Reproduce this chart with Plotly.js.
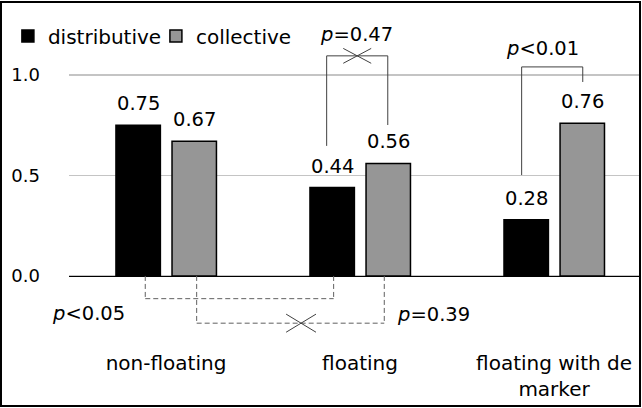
<!DOCTYPE html>
<html>
<head>
<meta charset="utf-8">
<script src="https://cdn.plot.ly/plotly-3.0.1.min.js"></script>
<style>
  html, body { margin: 0; padding: 0; background: #fff; }
  #chart { width: 642px; height: 408px; }
</style>
</head>
<body>
<div id="chart"></div>
<script>
// ---- data ----
const categories = ['non-floating', 'floating', 'floating with de<br>marker'];
const seriesNames = ['distributive', 'collective'];
const distributive = [0.75, 0.44, 0.28];
const collective = [0.67, 0.56, 0.76];
const yTickVals = [0, 0.5, 1.0];
const yTickText = ['0.0', '0.5', '1.0'];

// significance brackets (category-index x, value y)
const topBracketX = [[0.828, 1.143], [1.833, 2.148]];
const topBracketTop = [1.095, 1.04];
const topBracketEnds = [[0.647, 0.751], [0.502, 0.965]];
const topBracketCross = [true, false];
const topBracketLabels = ['<i>p</i>=0.47', '<i>p</i>&lt;0.01'];
const topLabelPos = [[0.982, 1.199], [1.943, 1.134]];

const bottomBracketX = [[-0.107, 0.864], [0.158, 1.125]];
const bottomBracketLevel = [-0.113, -0.235];
const bottomBracketCross = [false, true];
const bottomCrossX = [null, 0.696];
const bottomBracketLabels = ['<i>p</i>&lt;0.05', '<i>p</i>=0.39'];
const bottomLabelPos = [[-0.402, -0.186], [1.381, -0.19]];

// ---- layout constants ----
const FONT = 'DejaVu Sans, sans-serif';
const xIdx = categories.map((_, i) => i);
const barW = 0.229;
const offs = [-0.258, 0.031];
const colors = ['#000000', '#969696'];

const traces = [distributive, collective].map((vals, s) => ({
  type: 'bar',
  name: seriesNames[s],
  x: xIdx,
  y: vals,
  width: barW,
  offset: offs[s],
  marker: { color: colors[s], line: { color: '#000000', width: 1.5 } },
  hoverinfo: 'none'
}));

const annotations = [];
[distributive, collective].forEach((vals, s) => {
  vals.forEach((v, i) => {
    annotations.push({
      x: i + offs[s] + barW / 2, y: v, xref: 'x', yref: 'y',
      text: v.toFixed(2), showarrow: false, yanchor: 'bottom', yshift: 8,
      font: { family: FONT, size: 19.5, color: '#000' }
    });
  });
});
topBracketLabels.forEach((t, k) => annotations.push({
  x: topLabelPos[k][0], y: topLabelPos[k][1], xref: 'x', yref: 'y',
  text: t, showarrow: false, font: { family: FONT, size: 19.5, color: '#000' }
}));
bottomBracketLabels.forEach((t, k) => annotations.push({
  x: bottomLabelPos[k][0], y: bottomLabelPos[k][1], xref: 'x', yref: 'y',
  text: t, showarrow: false, font: { family: FONT, size: 19.5, color: '#000' }
}));

const shapes = [];
const solid = { color: '#404040', width: 1 };
const dashed = { color: '#606060', width: 1, dash: '5px,3px' };
function seg(x0, y0, x1, y1, line) {
  shapes.push({ type: 'line', xref: 'x', yref: 'y', x0, y0, x1, y1, line, layer: 'above' });
}
function cross(cx, cy, hx, hy, line) {
  seg(cx - hx, cy - hy, cx + hx, cy + hy, line);
  seg(cx - hx, cy + hy, cx + hx, cy - hy, line);
}
topBracketX.forEach((xs, k) => {
  const yt = topBracketTop[k];
  seg(xs[0], yt, xs[1], yt, solid);
  seg(xs[0], yt, xs[0], topBracketEnds[k][0], solid);
  seg(xs[1], yt, xs[1], topBracketEnds[k][1], solid);
  if (topBracketCross[k]) cross((xs[0] + xs[1]) / 2, yt, 0.072, 0.037, solid);
});
bottomBracketX.forEach((xs, k) => {
  const yl = bottomBracketLevel[k];
  seg(xs[0], yl, xs[1], yl, dashed);
  seg(xs[0], 0, xs[0], yl, dashed);
  seg(xs[1], 0, xs[1], yl, dashed);
  if (bottomBracketCross[k]) cross(bottomCrossX[k], yl, 0.077, 0.045, solid);
});
// outer frame
shapes.push({ type: 'rect', xref: 'paper', yref: 'paper',
  x0: -0.1191, x1: 1.0, y0: 0.0025, y1: 1.0075,
  line: { color: '#000', width: 2 }, fillcolor: 'rgba(0,0,0,0)', layer: 'above' });

const layout = {
  width: 642, height: 408,
  margin: { l: 69, r: 2, t: 5, b: 1 },
  paper_bgcolor: '#fff', plot_bgcolor: '#fff',
  barmode: 'overlay',
  showlegend: true,
  legend: {
    orientation: 'h', x: -0.107, y: 0.923, xanchor: 'left', yanchor: 'middle',
    font: { family: FONT, size: 20, color: '#000' }, bgcolor: 'rgba(0,0,0,0)',
    traceorder: 'normal', entrywidth: 103, entrywidthmode: 'pixels'
  },
  xaxis: {
    range: [-0.5, 2.443], anchor: 'free', position: 0.3259,
    tickvals: xIdx, ticktext: categories, ticks: '',
    showline: true, linecolor: '#000', linewidth: 1.5,
    showgrid: false, zeroline: false, ticklabelstandoff: 69,
    tickfont: { family: FONT, size: 20, color: '#000' }, fixedrange: true
  },
  yaxis: {
    range: [-0.652, 1.348], tickvals: yTickVals, ticktext: yTickText,
    showgrid: true, gridcolor: '#c4c4c4', gridwidth: 1.5, zeroline: false,
    ticks: '', ticklabelstandoff: 28,
    tickfont: { family: FONT, size: 18, color: '#000' }, fixedrange: true
  },
  annotations, shapes
};

Plotly.newPlot('chart', traces, layout, { displayModeBar: false, staticPlot: true });
</script>
</body>
</html>
